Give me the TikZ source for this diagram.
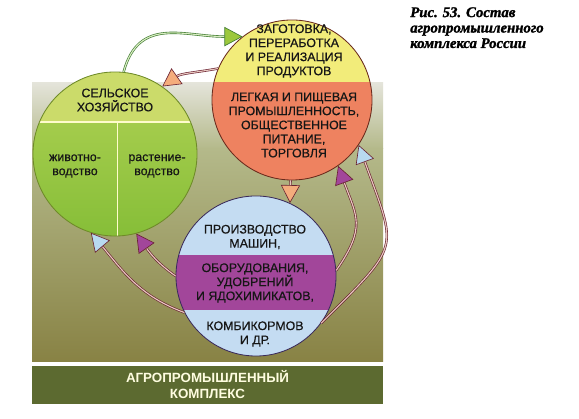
\documentclass[tikz,border=0pt]{standalone}
\usepackage{fontspec}
\setmainfont{Liberation Serif}
\setsansfont{Liberation Sans}
\newfontfamily\podpisfont{Liberation Serif}[UprightFont=* Bold Italic, UprightFeatures={FakeBold=1.5}]
\newfontfamily\krugfont{Liberation Sans}[UprightFeatures={FakeBold=0.5}]
\usetikzlibrary{arrows.meta,positioning,shapes}

\definecolor{fonverh}{HTML}{E4E4DA}
\definecolor{fonsered}{HTML}{B4B98A}
\definecolor{fonzelen}{HTML}{959C58}
\definecolor{fonniz}{HTML}{888244}
\definecolor{polosa}{HTML}{5C6A30}
\definecolor{tekstcvet}{HTML}{161616}
\definecolor{salatovyj}{HTML}{CBDB6A}
\definecolor{zelenyj}{HTML}{86BE38}
\definecolor{zelenyjsvet}{HTML}{A4CC4C}
\definecolor{zelenyjkontur}{HTML}{6E8A28}
\definecolor{zheltyj}{HTML}{F2EC7A}
\definecolor{oranzhevyj}{HTML}{EE8260}
\definecolor{korichnevyj}{HTML}{6A2A1C}
\definecolor{goluboj}{HTML}{C4DCF2}
\definecolor{fioletovyj}{HTML}{A2469A}
\definecolor{sinijkontur}{HTML}{3A2A5A}
\definecolor{bordo}{HTML}{6A2232}
\definecolor{rozovyj}{HTML}{E8C8C0}
\definecolor{temnozelenyj}{HTML}{3E7A30}
\definecolor{svetlozelenyj}{HTML}{D8ECC0}
\definecolor{zelenyjnakonechnik}{HTML}{9CC83C}
\definecolor{lososevyj}{HTML}{F4AC7C}
\definecolor{golubojnakonechnik}{HTML}{B8DAF0}

\begin{document}
\begin{tikzpicture}[x=0.025cm, y=0.025cm,
    krug/.style={circle, draw, line width=0.6pt, minimum size=4cm, inner sep=0pt},
    tekst/.style={align=center, text=tekstcvet, inner sep=0pt,
        font=\krugfont\fontsize{8.8}{10}\selectfont},
    strelka/.style={double, line width=0.45pt, double distance=0.8pt, draw=bordo, double=rozovyj},
    nakonechnik/.style={-{Triangle[length=0.45cm, width=0.48cm, fill=#1, color=bordo]}}
]
    \path[use as bounding box, fill=white] (0,0) rectangle (579,419);

    % fon
    \shade[top color=fonverh, bottom color=fonsered] (32,270) rectangle (383,336);
    \shade[top color=fonsered, middle color=fonzelen, bottom color=fonniz] (32,57) rectangle (383,270);



    \node (selskoe_khozyaystvo) [krug, minimum size=4.1cm, draw=zelenyjkontur, path picture={
        \fill[salatovyj] (path picture bounding box.north west) rectangle ([yshift=0.8cm]path picture bounding box.east);
        \shade[top color=zelenyjsvet, bottom color=zelenyj] ([yshift=0.8cm]path picture bounding box.west) rectangle (path picture bounding box.south east);
        \draw[white!80!yellow, line width=0.8pt] ([yshift=0.8cm]path picture bounding box.west) -- ([yshift=0.8cm]path picture bounding box.east);
        \draw[white!80!yellow, line width=0.6pt] ([xshift=0.05cm, yshift=0.8cm]path picture bounding box.center) -- ([xshift=0.05cm]path picture bounding box.south);
    }] at (115,265) {};

    \node (zagotovka) [krug, draw=korichnevyj, path picture={
        \fill[zheltyj] (path picture bounding box.north west) rectangle ([yshift=0.45cm]path picture bounding box.east);
        \fill[oranzhevyj] ([yshift=0.45cm]path picture bounding box.west) rectangle (path picture bounding box.south east);
    }] at (292,319) {};

    \node (proizvodstvo) [krug, draw=sinijkontur, path picture={
        \fill[goluboj] (path picture bounding box.north west) rectangle (path picture bounding box.south east);
        \fill[fioletovyj] ([yshift=0.525cm]path picture bounding box.west) rectangle ([yshift=-0.85cm]path picture bounding box.east);
    }] at (256,143) {};



    \node (selskoe_txt) [tekst] at (115,319)
    {
        СЕЛЬСКОЕ\\ХОЗЯЙСТВО
    };
    \node (zhivotnovodstvo_txt) [tekst] at (75,253)
    {
        животно-\\водство
    };
    \node (rastenievodstvo_txt) [tekst] at (157,253)
    {
        растение-\\водство
    };

    \node (zagotovka_txt) [tekst] at (294,368)
    {
        ЗАГОТОВКА,\\ПЕРЕРАБОТКА\\И РЕАЛИЗАЦИЯ\\ПРОДУКТОВ
    };
    \node (legkaya_txt) [tekst] at (294,294)
    {
        ЛЕГКАЯ И ПИЩЕВАЯ\\ПРОМЫШЛЕННОСТЬ,\\ОБЩЕСТВЕННОЕ\\ПИТАНИЕ,\\ТОРГОВЛЯ
    };

    \node (mashiny_txt) [tekst] at (255,182)
    {
        ПРОИЗВОДСТВО\\МАШИН,
    };
    \node (oborudovanie_txt) [tekst] at (255,136)
    {
        ОБОРУДОВАНИЯ,\\УДОБРЕНИЙ\\И ЯДОХИМИКАТОВ,
    };
    \node (kombikorma_txt) [tekst] at (255,85)
    {
        КОМБИКОРМОВ\\И ДР.
    };



    \node (agroprom_kompleks) [fill=polosa, minimum width=8.775cm, minimum height=0.9cm, align=center,
        text=white!88!yellow, font=\sffamily\bfseries\fontsize{9.5}{11.4}\selectfont] at (207.5,34)
    {
        АГРОПРОМЫШЛЕННЫЙ\\КОМПЛЕКС
    };

    \node (podpis) [anchor=north west, align=left, inner sep=0pt,
        font=\podpisfont\fontsize{10.5}{11}\selectfont] at (410,412)
    {
        Рис. 53. Состав\\агропромышленного\\комплекса России
    };



    \draw[strelka, draw=temnozelenyj, double=svetlozelenyj,
        -{Triangle[length=0.45cm, width=0.48cm, fill=zelenyjnakonechnik, color=temnozelenyj]}]
        (selskoe_khozyaystvo.84) to[out=75, in=180, looseness=1.2] (zagotovka.128);
    \draw[strelka, nakonechnik=lososevyj] (zagotovka.157) to[out=190, in=35] (selskoe_khozyaystvo.55);
    \draw[strelka, nakonechnik=lososevyj] (zagotovka.269) -- (proizvodstvo.65);
    \draw[strelka, nakonechnik=golubojnakonechnik] (proizvodstvo.207) to[out=160, in=-50] (selskoe_khozyaystvo.253);
    \draw[strelka, nakonechnik=fioletovyj] (proizvodstvo.180) to[out=145, in=-55] (selskoe_khozyaystvo.285);
    \draw[strelka, nakonechnik=fioletovyj] (proizvodstvo.4) to[out=55, in=-70, looseness=1.3] (zagotovka.305);
    \draw[strelka, nakonechnik=golubojnakonechnik] (proizvodstvo.324) to[out=45, in=-70, looseness=1.6] (zagotovka.326);


\end{tikzpicture}
\end{document}
